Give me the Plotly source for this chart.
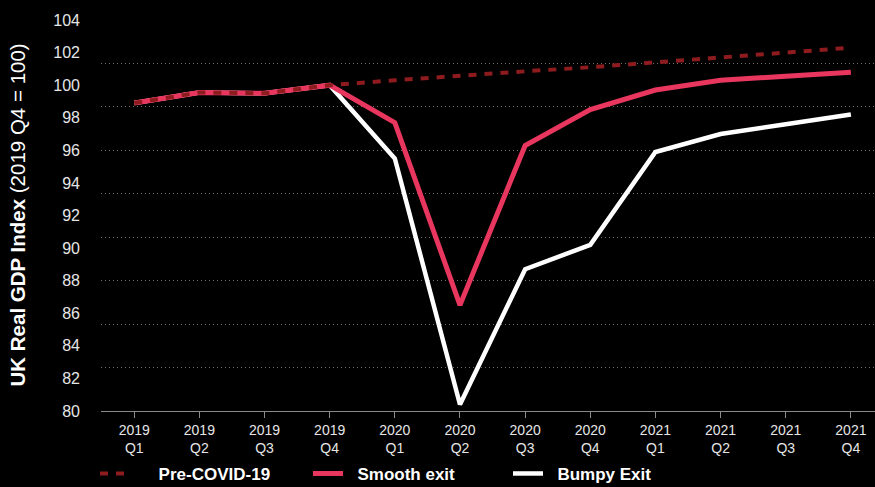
import plotly.graph_objects as go

quarters = ["2019<br>Q1", "2019<br>Q2", "2019<br>Q3", "2019<br>Q4",
            "2020<br>Q1", "2020<br>Q2", "2020<br>Q3", "2020<br>Q4",
            "2021<br>Q1", "2021<br>Q2", "2021<br>Q3", "2021<br>Q4"]
pre_covid = [98.9, 99.55, 99.5, 100.0, 100.3, 100.6, 100.85, 101.1, 101.4, 101.7, 102.0, 102.3]
smooth_exit = [98.9, 99.55, 99.5, 100.0, 97.7, 86.5, 96.3, 98.5, 99.7, 100.3, 100.55, 100.8]
bumpy_exit = [98.9, 99.55, 99.5, 100.0, 95.5, 80.4, 88.7, 90.2, 95.9, 97.0, 97.6, 98.2]

x_idx = list(range(len(quarters)))
FONT = "Liberation Sans, Arial, sans-serif"
PINK = "#E8365E"
DARKRED = "#8E1B1E"

fig = go.Figure()
fig.add_trace(go.Scatter(x=x_idx, y=bumpy_exit, mode="lines", name="\u00a0\u00a0Bumpy Exit",
                         line=dict(color="white", width=4.5), legend="legend3"))
fig.add_trace(go.Scatter(x=x_idx, y=smooth_exit, mode="lines", name="\u00a0\u00a0Smooth exit",
                         line=dict(color=PINK, width=5), legend="legend2"))
fig.add_trace(go.Scatter(x=x_idx, y=pre_covid, mode="lines", name="\u00a0\u00a0\u00a0\u00a0\u00a0Pre-COVID-19",
                         line=dict(color=DARKRED, width=4, dash="8px,8px"), legend="legend"))
# helper trace for gridline axis
fig.add_trace(go.Scatter(x=x_idx, y=pre_covid, mode="lines", yaxis="y2", showlegend=False,
                         hoverinfo="skip", line=dict(width=0), opacity=0))

L, T, B = 101, 19.5, 76
plot_h = 487 - T - B

def leg_x(px):
    return (px - L) / (875 - L)

legend_common = dict(orientation="h", yanchor="middle", xanchor="left", y=(411 - 474) / plot_h,
                     bgcolor="rgba(0,0,0,0)",
                     font=dict(family=FONT, size=17, color="white", weight="bold"))

fig.update_layout(
    width=875, height=487,
    paper_bgcolor="black", plot_bgcolor="black",
    margin=dict(l=L, r=0, t=T, b=B, autoexpand=False),
    font=dict(family=FONT, color="#e6e6e6"),
    xaxis=dict(range=[-0.51, 11.37], tickmode="array", tickvals=x_idx, ticktext=quarters,
               showgrid=False, zeroline=False, showline=True, linecolor="#8a8a8a", linewidth=1,
               ticks="outside", ticklen=6, tickcolor="#8a8a8a",
               tickfont=dict(size=14, color="#e6e6e6", family=FONT)),
    yaxis=dict(range=[80, 104], tick0=80, dtick=2, showgrid=False, zeroline=False,
               ticks="", ticklabelstandoff=20,
               tickfont=dict(size=16, color="#e6e6e6", family=FONT)),
    yaxis2=dict(range=[80, 104], overlaying="y", tick0=80, dtick=8 / 3, showgrid=True,
                gridcolor="#707070", griddash="1px,3px", gridwidth=1, showticklabels=False,
                zeroline=False, side="left", ticks=""),
    legend=dict(x=leg_x(95), **legend_common),
    legend2=dict(x=leg_x(308), **legend_common),
    legend3=dict(x=leg_x(508), **legend_common),
    annotations=[dict(
        text="<b>UK Real GDP Index</b> (2019 Q4 = 100)", textangle=-90,
        xref="paper", yref="paper", x=(17 - L) / (875 - L), y=0.5,
        xanchor="center", yanchor="middle", showarrow=False,
        font=dict(family=FONT, size=20.5, color="white"))],
    showlegend=True,
)

fig.write_html("out.html")
